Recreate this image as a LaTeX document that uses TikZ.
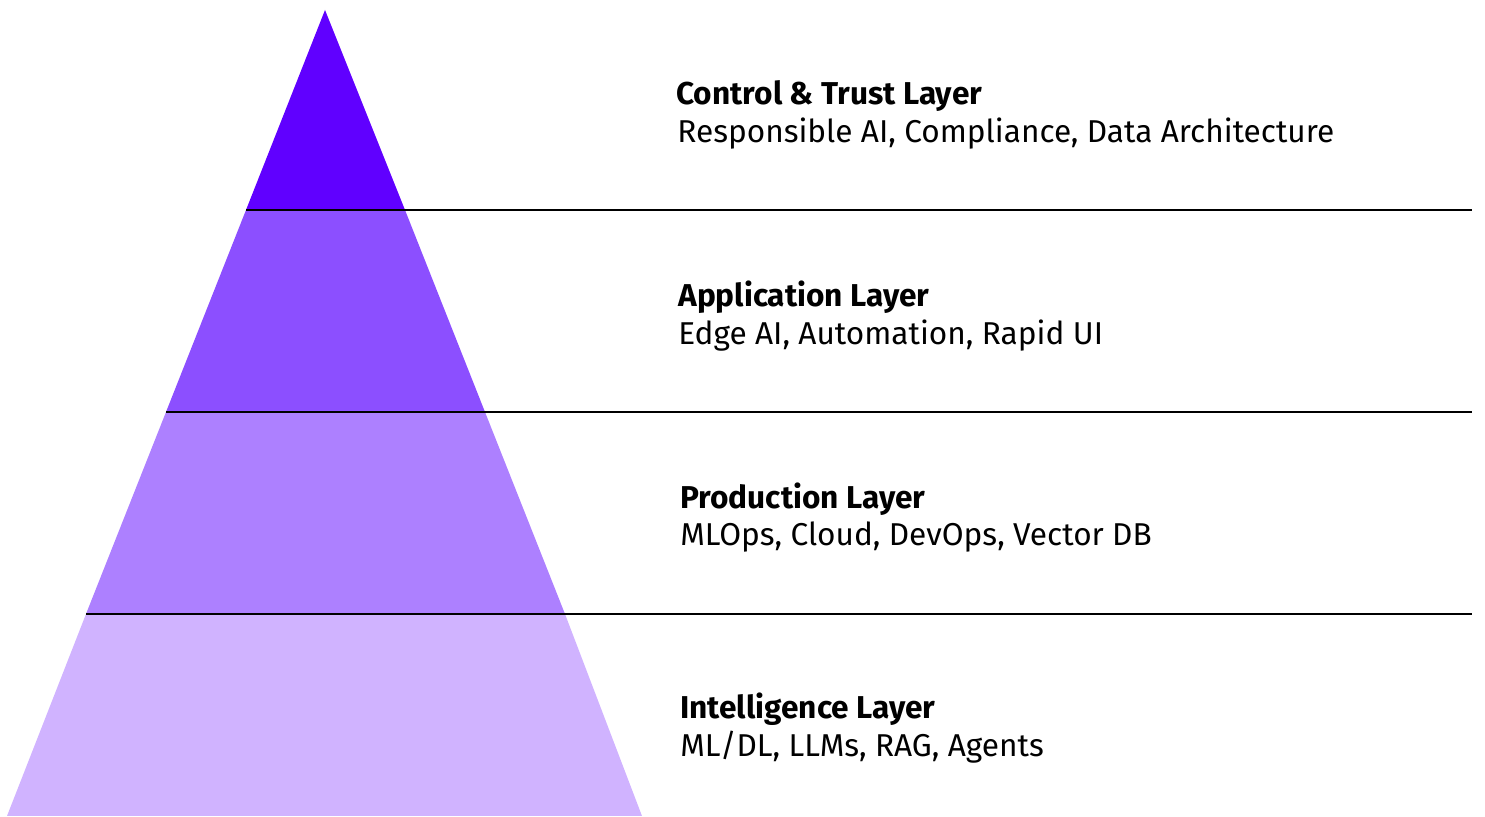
\documentclass[tikz,border=0pt]{standalone}
\usepackage{fontspec}
\setmainfont{Fira Sans}
\definecolor{c1}{HTML}{6000FF}
\definecolor{c2}{HTML}{8C4FFF}
\definecolor{c3}{HTML}{AD80FF}
\definecolor{c4}{HTML}{D0B3FF}
\begin{document}
\begin{tikzpicture}[x=0.5pt,y=-0.5pt,
  ttl/.style={anchor=base west,inner sep=0pt,font=\fontsize{15.8}{19}\selectfont\bfseries},
  bdy/.style={anchor=base west,inner sep=0pt,font=\fontsize{15.8}{19}\selectfont},
  sep/.style={draw=black,line width=1.2pt}]
\useasboundingbox (0,0) rectangle (1485,817);
% layers
\fill[c4] (86,614) -- (565,614) -- (642,816) -- (7,816) -- cycle;
\fill[c3] (166,412) -- (485,412) -- (565,614) -- (86,614) -- cycle;
\fill[c2] (246,210) -- (405,210) -- (485,412) -- (166,412) -- cycle;
\fill[c1] (325,10) -- (405,210) -- (246,210) -- cycle;
% separators
\coordinate (s1a) at (246,210); \coordinate (s1b) at (1472,210);
\coordinate (s2a) at (166,412); \coordinate (s2b) at (1472,412);
\coordinate (s3a) at (86,614); \coordinate (s3b) at (1472,614);
\draw[sep] (s1a) -- (s1b);
\draw[sep] (s2a) -- (s2b);
\draw[sep] (s3a) -- (s3b);
% texts
\node[ttl] (t1) at (676,105) {Control \& Trust Layer};
\node[bdy] (b1) at (677,143) {Responsible AI, Compliance, Data Architecture};
\node[ttl] (t2) at (678,307) {Application Layer};
\node[bdy] (b2) at (678,345) {Edge AI, Automation, Rapid UI};
\node[ttl] (t3) at (680,509) {Production Layer};
\node[bdy] (b3) at (680,546) {MLOps, Cloud, DevOps, Vector DB};
\node[ttl] (t4) at (680,719) {Intelligence Layer};
\node[bdy] (b4) at (680,757) {ML/DL, LLMs, RAG, Agents};
\end{tikzpicture}
\end{document}
